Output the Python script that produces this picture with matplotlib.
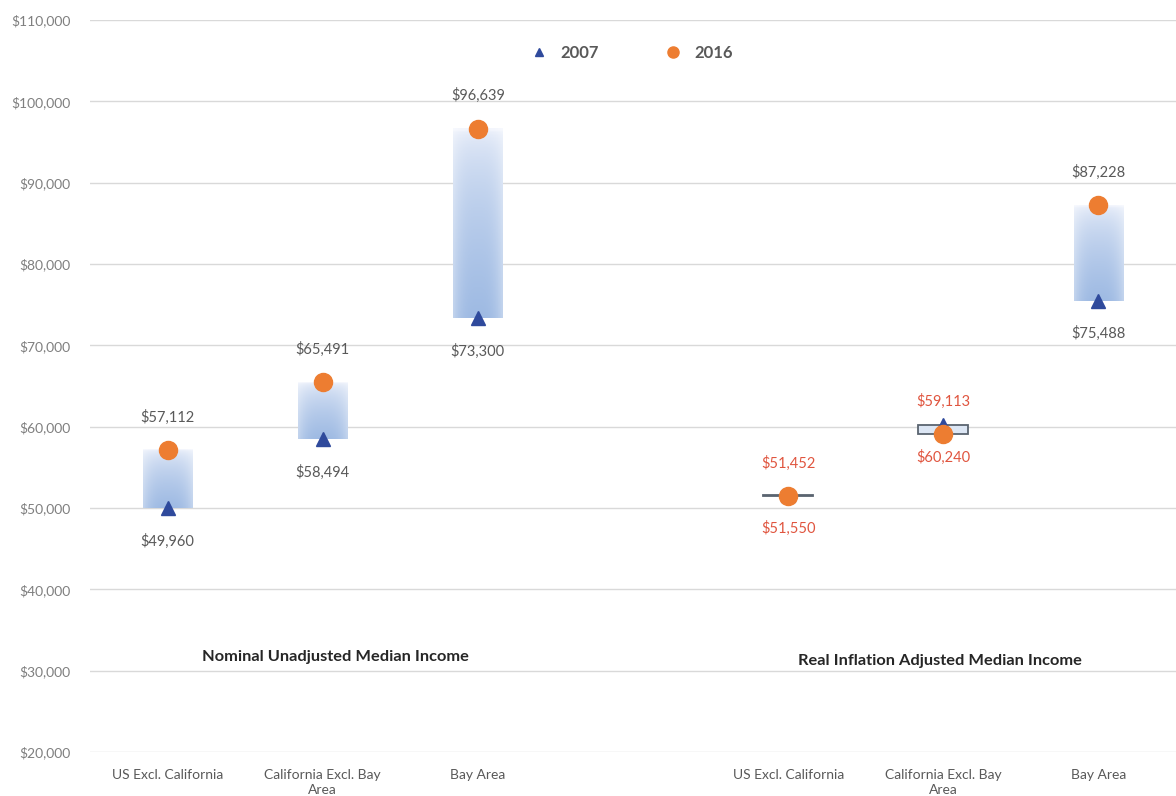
import matplotlib.pyplot as plt
import numpy as np
from matplotlib.patches import Rectangle
from matplotlib.lines import Line2D

plt.rcParams['font.family'] = ['Lato', 'DejaVu Sans']

# datos
categorias = ["US Excl. California", "California Excl. Bay\nArea", "Bay Area",
              "", "US Excl. California", "California Excl. Bay\nArea", "Bay Area"]
posiciones = [0, 1, 2, 4, 5, 6]
val_2007 = [49960, 58494, 73300, 51550, 60240, 75488]
val_2016 = [57112, 65491, 96639, 51452, 59113, 87228]
titulos = ["Nominal Unadjusted Median Income", "Real Inflation Adjusted Median Income"]
titulos_x = [1.08, 4.98]
titulos_y = [31700, 31200]

gris = '#595959'
rojo = '#e0553f'
azul = '#2f4a9c'
naranja = '#ed7d31'

fig = plt.figure(figsize=(11.76, 7.96), dpi=100)
ax = fig.add_axes([0.0765, 0.0553, 0.9235, 0.9196])

# gradiente para las barras (claro arriba, azul abajo)
alto, ancho = 60, 30
t = np.linspace(0, 1, alto).reshape(-1, 1)
h = np.abs(np.linspace(-1, 1, ancho)).reshape(1, -1)
c_arriba = np.array([0.95, 0.96, 0.99])
c_abajo = np.array([0.62, 0.73, 0.89])
grad = np.zeros((alto, ancho, 3))
for k in range(3):
    base = c_arriba[k] + (c_abajo[k] - c_arriba[k]) * (t ** 0.5)
    grad[:, :, k] = base + (1 - base) * 0.35 * h ** 3

w = 0.16
for x, a, b in zip(posiciones, val_2007, val_2016):
    lo, hi = min(a, b), max(a, b)
    if b >= a:
        ax.imshow(grad, extent=(x - w, x + w, lo, hi), aspect='auto', zorder=2)
    else:
        ax.add_patch(Rectangle((x - w, lo), 2 * w, hi - lo, facecolor='#dce6f4',
                               edgecolor='#5a6470', linewidth=1.3, zorder=2))

ax.plot(posiciones, val_2007, linestyle='none', marker='^', color=azul,
        markersize=10, zorder=4)
ax.plot(posiciones, val_2016, linestyle='none', marker='o', color=naranja,
        markersize=13, zorder=5)

for x, a, b in zip(posiciones, val_2007, val_2016):
    col = rojo if b < a else gris
    ax.annotate(f"${b:,.0f}", (x, b), xytext=(0, 33), textcoords='offset pixels',
                ha='center', va='center', fontsize=10.5, color=col)
    ax.annotate(f"${a:,.0f}", (x, a), xytext=(0, -33), textcoords='offset pixels',
                ha='center', va='center', fontsize=10.5, color=col)

for txt, tx, ty in zip(titulos, titulos_x, titulos_y):
    ax.text(tx, ty, txt, ha='center', va='center', fontsize=11.8,
            fontweight='bold', color='#262626')

ax.set_xlim(-0.5, 6.5)
ax.set_ylim(20000, 110000)
ax.set_yticks(np.arange(20000, 110001, 10000))
ax.set_yticklabels([f"${v:,.0f}" for v in np.arange(20000, 110001, 10000)],
                   fontsize=10, color='#7f7f7f')
ax.set_xticks(range(len(categorias)))
ax.set_xticklabels(categorias, fontsize=10, color=gris, linespacing=1.3)
ax.tick_params(axis='both', length=0)
ax.tick_params(axis='x', pad=12)
ax.tick_params(axis='y', pad=14)
ax.grid(axis='y', color='#d9d9d9', linewidth=1)
ax.set_axisbelow(True)
for s in ax.spines.values():
    s.set_visible(False)

manejadores = [Line2D([], [], linestyle='none', marker='^', color=azul, markersize=6),
               Line2D([], [], linestyle='none', marker='o', color=naranja, markersize=8)]
leg = ax.legend(manejadores, ['2007', '2016'], loc='center', ncol=2,
                bbox_to_anchor=(0.495, 0.955), frameon=False, columnspacing=3.4,
                handletextpad=0.3, prop={'size': 12, 'weight': 'bold'})
for t_ in leg.get_texts():
    t_.set_color(gris)

fig.savefig('out.png', dpi=100, facecolor='white')
